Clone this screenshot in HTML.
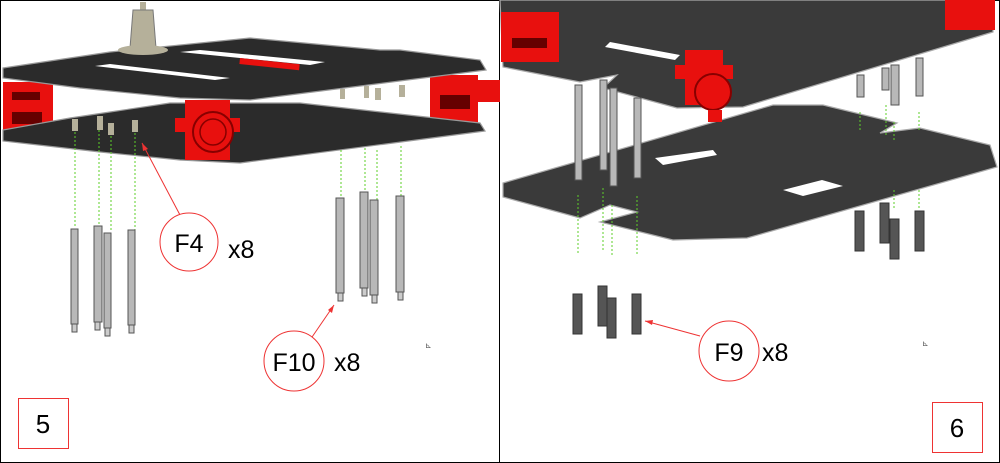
<!DOCTYPE html><html><head><style>body{margin:0;background:#fff}svg{display:block}</style></head><body>
<svg width="1000" height="463" viewBox="0 0 1000 463" xmlns="http://www.w3.org/2000/svg" font-family="Liberation Sans, sans-serif">
<rect x="0.5" y="0.5" width="999" height="462" fill="#fff" stroke="#000"/>
<line x1="499.5" y1="0" x2="499.5" y2="463" stroke="#000"/>
<!-- LEFT -->
<g>
<rect x="3" y="82" width="50" height="57" fill="#e8100e"/>
<rect x="12" y="92" width="28" height="8" fill="#600" />
<rect x="12" y="112" width="30" height="12" fill="#600"/>
<rect x="430" y="75" width="48" height="52" fill="#e8100e"/>
<rect x="478" y="80" width="22" height="22" fill="#e8100e"/>
<rect x="440" y="95" width="30" height="14" fill="#600"/>
<polygon points="3,130 70,118 110,112 170,103 300,103 480,123 485,131 240,163 180,160 100,152 3,141" fill="#2b2b2b" stroke="#999" stroke-width="1.2"/>
<polygon points="3,68 110,52 250,38 380,50 400,50 480,60 486,70 250,100 180,98 100,90 80,88 3,78" fill="#2b2b2b" stroke="#999" stroke-width="1.2"/>
<polygon points="95,66 110,64 230,78 215,80" fill="#fff"/>
<polygon points="180,52 200,50 325,62 310,65" fill="#fff"/>
<rect x="240" y="58" width="60" height="6" fill="#e8100e" transform="rotate(6 240 58)"/>
<rect x="140" y="2" width="6" height="8" fill="#b5b09a"/>
<polygon points="133,10 153,10 156,48 130,48" fill="#b5b09a" stroke="#777"/>
<ellipse cx="143" cy="50" rx="25" ry="5" fill="#b5b09a"/>
<rect x="185" y="100" width="45" height="60" fill="#e8100e"/>
<rect x="175" y="118" width="65" height="14" fill="#e8100e"/>
<circle cx="213" cy="132" r="20" fill="#e8100e" stroke="#800" stroke-width="2"/>
<circle cx="213" cy="132" r="13" fill="none" stroke="#800" stroke-width="1.5"/>
<g fill="#b5b09a">
<rect x="72" y="119" width="6" height="12"/><rect x="97" y="116" width="6" height="14"/><rect x="108" y="123" width="6" height="12"/><rect x="132" y="120" width="6" height="12"/>
<rect x="340" y="89" width="5" height="10"/><rect x="364" y="86" width="5" height="12"/><rect x="375" y="88" width="6" height="12"/><rect x="399" y="85" width="6" height="12"/>
</g>
<g stroke="#5ecf2a" stroke-dasharray="2,2" stroke-width="1">
<line x1="75" y1="132" x2="75" y2="228"/><line x1="99" y1="130" x2="99" y2="226"/><line x1="111" y1="136" x2="111" y2="232"/><line x1="135" y1="133" x2="135" y2="230"/>
<line x1="341" y1="150" x2="341" y2="198"/><line x1="365" y1="148" x2="365" y2="192"/><line x1="377" y1="150" x2="377" y2="200"/><line x1="401" y1="146" x2="401" y2="196"/>
</g>
<g fill="#b8b8b8" stroke="#555" stroke-width="1">
<rect x="71" y="229" width="7" height="95"/><rect x="94" y="226" width="8" height="96"/><rect x="104" y="233" width="7" height="95"/><rect x="128" y="230" width="7" height="95"/>
<rect x="336" y="198" width="8" height="95"/><rect x="360" y="192" width="8" height="96"/><rect x="370" y="200" width="8" height="95"/><rect x="396" y="196" width="8" height="96"/>
</g>
<g fill="#ccc" stroke="#555"><rect x="72" y="324" width="5" height="8"/><rect x="95" y="322" width="5" height="8"/><rect x="105" y="328" width="5" height="8"/><rect x="129" y="325" width="5" height="8"/>
<rect x="338" y="293" width="5" height="8"/><rect x="362" y="288" width="5" height="8"/><rect x="372" y="295" width="5" height="8"/><rect x="398" y="292" width="5" height="8"/></g>
<line x1="180" y1="215" x2="142" y2="143" stroke="#e33" stroke-width="1"/>
<polygon points="142,143 148,149 143,151" fill="#e33"/>
<circle cx="189" cy="242" r="29" fill="#fff" stroke="#e33"/>
<text x="189" y="252" font-size="25" text-anchor="middle">F4</text>
<text x="228" y="258" font-size="25">x8</text>
<line x1="310" y1="340" x2="334" y2="305" stroke="#e33"/>
<polygon points="334,305 332,313 328,310" fill="#e33"/>
<circle cx="294" cy="361" r="30" fill="#fff" stroke="#e33"/>
<text x="294" y="371" font-size="25" text-anchor="middle">F10</text>
<text x="334" y="371" font-size="25">x8</text>
<text x="425" y="348" font-size="8" fill="#555">⊾</text>
<rect x="18.5" y="398.5" width="50" height="50" fill="#fff" stroke="#e33"/>
<text x="43" y="433" font-size="26" text-anchor="middle">5</text>
</g>
<!-- RIGHT -->
<g>
<polygon points="503,183 773,105 823,105 897,123 880,133 920,128 990,145 997,167 747,238 673,240 600,222 637,212 610,205 580,218 503,197" fill="#3a3a3a" stroke="#aaa" stroke-width="1.2"/>
<polygon points="655,158 713,150 717,155 663,165" fill="#fff"/>
<polygon points="783,190 822,180 843,186 803,196" fill="#fff"/>
<polygon points="500,0 993,0 993,32 743,107 677,108 603,88 617,75 580,82 503,67" fill="#3a3a3a" stroke="#aaa" stroke-width="1.2"/>
<rect x="501" y="12" width="58" height="50" fill="#e8100e"/>
<rect x="512" y="38" width="35" height="10" fill="#600"/>
<rect x="945" y="0" width="50" height="30" fill="#e8100e"/>
<polygon points="610,42 680,55 675,60 605,47" fill="#fff"/>
<rect x="685" y="50" width="38" height="55" fill="#e8100e"/>
<rect x="675" y="65" width="58" height="14" fill="#e8100e"/>
<circle cx="713" cy="92" r="18" fill="#e8100e" stroke="#800" stroke-width="2"/>
<rect x="708" y="110" width="14" height="12" fill="#e8100e"/>
<g stroke="#5ecf2a" stroke-dasharray="2,2">
<line x1="578" y1="195" x2="578" y2="255"/><line x1="603" y1="188" x2="603" y2="250"/><line x1="612" y1="205" x2="612" y2="255"/><line x1="637" y1="196" x2="637" y2="255"/>
<line x1="860" y1="112" x2="860" y2="132"/><line x1="886" y1="105" x2="886" y2="135"/><line x1="894" y1="122" x2="894" y2="140"/><line x1="919" y1="112" x2="919" y2="130"/>
<line x1="894" y1="190" x2="894" y2="210"/><line x1="919" y1="190" x2="919" y2="210"/>
</g>
<g fill="#b8b8b8" stroke="#555">
<rect x="575" y="85" width="7" height="95"/><rect x="600" y="80" width="7" height="90"/><rect x="610" y="88" width="7" height="98"/><rect x="634" y="98" width="7" height="80"/>
<rect x="857" y="75" width="7" height="22"/><rect x="882" y="68" width="7" height="22"/><rect x="891" y="65" width="8" height="40"/><rect x="916" y="58" width="7" height="38"/>
</g>
<g fill="#555" stroke="#333">
<rect x="573" y="294" width="9" height="40"/><rect x="598" y="286" width="9" height="40"/><rect x="607" y="298" width="9" height="40"/><rect x="632" y="294" width="9" height="40"/>
<rect x="855" y="211" width="9" height="40"/><rect x="880" y="203" width="9" height="40"/><rect x="890" y="219" width="9" height="40"/><rect x="915" y="211" width="9" height="40"/>
</g>
<line x1="700" y1="336" x2="645" y2="321" stroke="#e33"/>
<polygon points="645,321 653,320 652,325" fill="#e33"/>
<circle cx="729" cy="351" r="30" fill="#fff" stroke="#e33"/>
<text x="729" y="361" font-size="25" text-anchor="middle">F9</text>
<text x="762" y="361" font-size="25">x8</text>
<text x="922" y="346" font-size="8" fill="#555">⊾</text>
<rect x="932.5" y="402.5" width="50" height="50" fill="#fff" stroke="#e33"/>
<text x="957" y="437" font-size="26" text-anchor="middle">6</text>
</g>
</svg>
</body></html>
